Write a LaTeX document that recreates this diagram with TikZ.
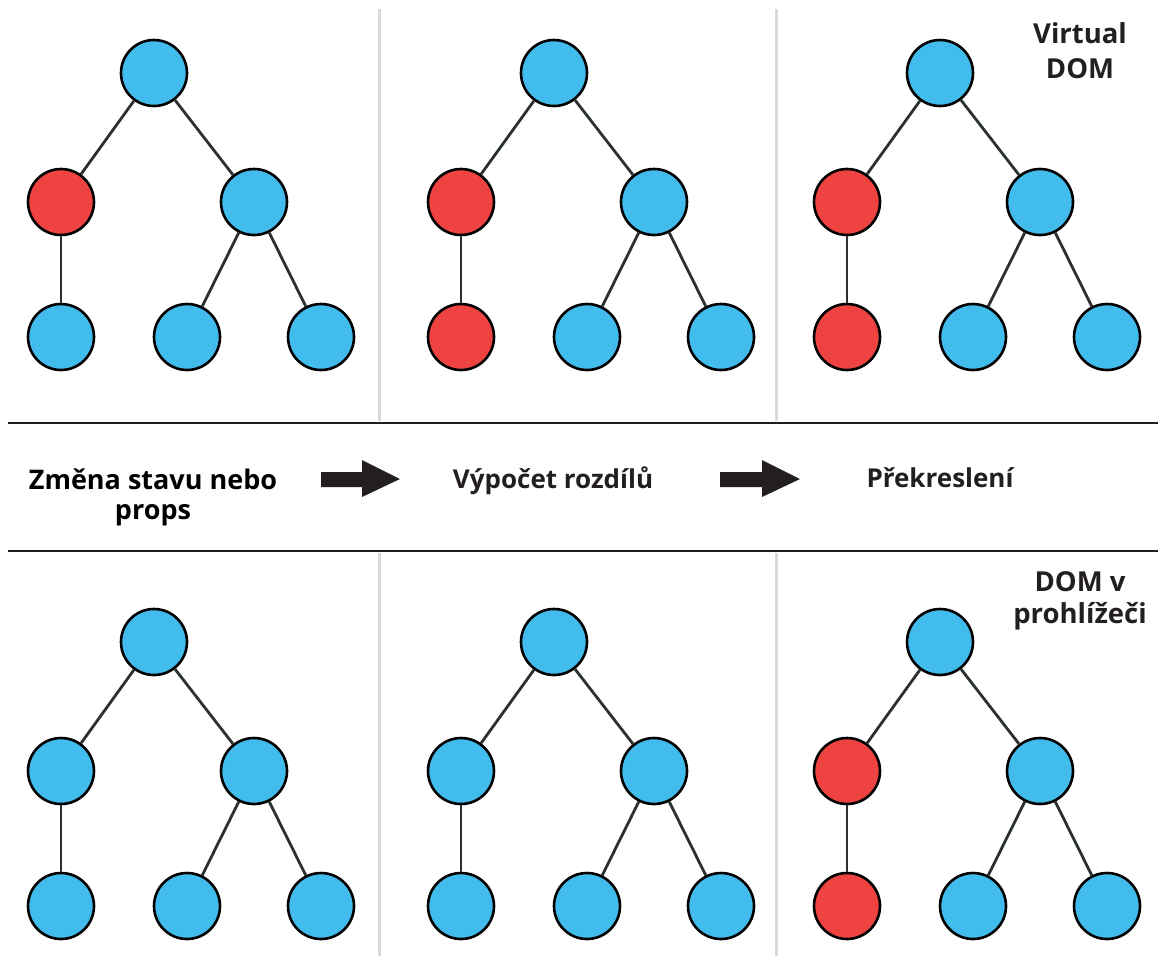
\documentclass[tikz,border=0pt]{standalone}
\usepackage{fontspec}
\setmainfont{Open Sans}
\usetikzlibrary{calc}

\definecolor{nodeblue}{HTML}{42BBED}
\definecolor{nodered}{HTML}{EE4340}
\definecolor{edgegray}{HTML}{2B3030}
\definecolor{inkdark}{HTML}{231F20}
\definecolor{rulegray}{HTML}{D9D9D9}
\definecolor{ruleblack}{HTML}{1D1D1B}

\tikzset{
  treenode/.style={circle, draw=black, line width=2.6pt, minimum size=66pt,
                   inner sep=0pt, fill=nodeblue},
  treeedge/.style={draw=edgegray, line width=2.8pt},
  divider/.style={draw=ruleblack, line width=2.6pt},
  panelrule/.style={draw=rulegray, line width=3pt},
  steparrow/.style={fill=inkdark, draw=none},
  caption/.style={font=\fontsize{27.5}{30}\selectfont\bfseries, text=inkdark,
                  inner sep=0pt, align=center},
  stepcaption/.style={caption, font=\fontsize{26}{30}\selectfont\bfseries},
}

% one tree: #1 name prefix, #2/#3 root position, #4 left child fill, #5 left leaf fill
\newcommand{\domtree}[5]{%
  \node[treenode] (#1r) at (#2,#3) {};
  \node[treenode, fill=#4] (#1a) at ({#2-93},{#3+129}) {};
  \node[treenode] (#1b) at ({#2+100},{#3+129}) {};
  \node[treenode, fill=#5] (#1c) at ({#2-93},{#3+264}) {};
  \node[treenode] (#1d) at ({#2+33},{#3+264}) {};
  \node[treenode] (#1e) at ({#2+167},{#3+264}) {};
  \draw[treeedge] (#1r) -- (#1a);
  \draw[treeedge] (#1r) -- (#1b);
  \draw[treeedge] (#1a) -- (#1c);
  \draw[treeedge] (#1b) -- (#1d);
  \draw[treeedge] (#1b) -- (#1e);
}

\begin{document}
\begin{tikzpicture}[x=1pt, y=-1pt]
  \useasboundingbox (0,0) rectangle (1158,956);

  % panel separators
  \draw[panelrule] (379,9) -- (379,421);
  \draw[panelrule] (776,9) -- (776,421);
  \draw[panelrule] (379,553) -- (379,956);
  \draw[panelrule] (776,553) -- (776,956);

  % band around the process steps
  \draw[divider] (8,423) -- (1158,423);
  \draw[divider] (8,551) -- (1158,551);

  % virtual DOM row
  \domtree{va}{154}{73}{nodered}{nodeblue}
  \domtree{vb}{554}{73}{nodered}{nodered}
  \domtree{vc}{940}{73}{nodered}{nodered}

  % browser DOM row
  \domtree{ba}{154}{642}{nodeblue}{nodeblue}
  \domtree{bb}{554}{642}{nodeblue}{nodeblue}
  \domtree{bc}{940}{642}{nodered}{nodered}

  % row captions
  \node[caption, anchor=base, font=\fontsize{27.5}{35}\selectfont\bfseries] (lvirt) at (1080,78) {Virtual\\DOM};
  \node[caption, anchor=base, font=\fontsize{27.5}{31.5}\selectfont\bfseries] (lbrow) at (1080,623) {DOM v\\prohlížeči};

  % process steps
  \node[caption, anchor=base, text=black, font=\fontsize{27}{30}\selectfont\bfseries] (s1) at (153,519) {Změna stavu nebo\\props};
  \node[stepcaption, anchor=base] (s2) at (553,488) {Výpočet rozdílů};
  \node[stepcaption, anchor=base] (s3) at (940,487) {Překreslení};

  % arrows between the steps
  \fill[steparrow] (321,472) -- (362,472) -- (362,460) -- (400,479) -- (362,497)
                   -- (362,487) -- (321,487) -- cycle;
  \fill[steparrow] (720,472) -- (762,472) -- (762,460) -- (800,479) -- (762,497)
                   -- (762,487) -- (720,487) -- cycle;
\end{tikzpicture}
\end{document}
